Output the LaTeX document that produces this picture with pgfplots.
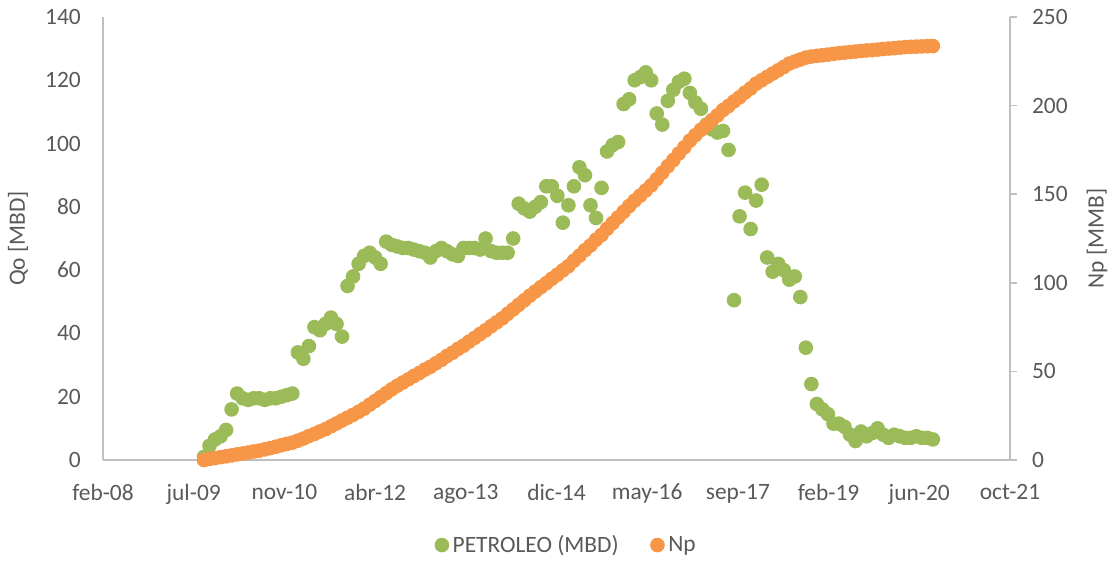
\documentclass[border=0pt]{standalone}
\usepackage{fontspec}
\setmainfont{Carlito}
\usepackage{pgfplots}
\usepackage{pgfplotstable}
\pgfplotsset{compat=1.18}

\definecolor{qogreen}{RGB}{155,187,89}
\definecolor{nporange}{RGB}{247,150,70}
\definecolor{axisgray}{RGB}{191,191,191}
\definecolor{textgray}{RGB}{89,89,89}

% m = months since jan-2008, qo [MBD], np [MMB]
\pgfplotstableread{
m qo np
20 1 0
21 4.5 0.6
22 6.5 1.1
23 7.5 1.6
24 9.5 2.1
25 16 2.6
26 21 3.2
27 19.5 3.7
28 19 4.2
29 19.5 4.8
30 19.5 5.3
31 19 6.0
32 19.5 6.7
33 19.5 7.5
34 20 8.3
35 20.5 9.1
36 21 9.8
37 34 10.9
38 32 12.1
39 36 13.5
40 42 14.7
41 41 16.1
42 43 17.4
43 45 19.0
44 43 20.6
45 39 22.3
46 55 23.9
47 58 25.5
48 62 27.2
49 64.5 29.0
50 65.5 31.2
51 64 33.3
52 62 35.5
53 69 37.7
54 68 39.9
55 67.5 41.9
56 67 43.7
57 67 45.5
58 66.5 47.4
59 66 49.1
60 65.5 51.0
61 64 52.6
62 66 54.6
63 67 56.5
64 66 58.7
65 65 60.5
66 64.5 62.7
67 67 64.5
68 67 66.8
69 67 68.9
70 66.5 71.1
71 70 73.2
72 66 75.5
73 65.5 77.7
74 65.5 79.9
75 65.5 82.5
76 70 85.0
77 81 87.6
78 79.5 90.1
79 78.5 92.7
80 80 95.1
81 81.5 97.5
82 86.5 99.8
83 86.5 102.3
84 83.5 104.6
85 75 107.1
86 80.5 109.4
87 86.5 112.5
88 92.5 115.3
89 90 118.4
90 80.5 121.1
91 76.5 124.3
92 86 127.0
93 97.5 130.5
94 99.5 133.7
95 100.5 136.9
96 112.5 140.1
97 114 143.3
98 120 146.4
99 121 149.2
100 122.5 152.1
101 120 155.0
102 109.5 158.5
103 106 162.1
104 113.5 165.8
105 117 169.3
106 119.5 173.0
107 120.5 176.5
108 116 180.2
109 113 183.3
110 111 186.3
111 106 188.9
112 104.5 191.8
113 103.5 194.5
114 104 197.5
115 98 199.8
116 50.5 202.4
117 77 204.7
118 84.5 207.4
119 73 209.7
120 82 212.4
121 87 214.3
122 64 216.2
123 59.5 218.1
124 62 219.9
125 60 221.8
126 57 223.7
127 58 224.9
128 51.5 226.0
129 35.5 227.1
130 24 227.7
131 17.7 228.1
132 16 228.4
133 14.5 228.8
134 11.5 229.2
135 11.5 229.6
136 10.5 229.9
137 8 230.2
138 6 230.5
139 9 230.8
140 7.5 231.1
141 8.5 231.3
142 10 231.6
143 8 231.9
144 7 232.2
145 8 232.4
146 7.5 232.7
147 7 233.0
148 7 233.2
149 7.5 233.3
150 7 233.4
151 7 233.5
152 6.5 233.6
}\prod

\pgfplotsset{
  common/.style={
    scale only axis,
    width=453.5bp, height=221.5bp,
    at={(0,0)}, anchor=south west,
    xmin=1.708, xmax=165.98,
    ymin=0,
    font=\fontsize{11.75}{14}\selectfont,
    tick label style={text=textgray},
    label style={text=textgray},
    /pgf/number format/assume math mode=true,
    axis line style={draw=axisgray, line width=0.75bp, -},
    every outer x axis line/.append style={-},
    every outer y axis line/.append style={-},
  },
}

\begin{document}
\begin{tikzpicture}
\path[use as bounding box] (-51.5bp,-51.5bp) rectangle (505bp,230bp);

\begin{axis}[
  common,
  ymax=140, ytick={0,20,...,140},
  axis x line*=bottom, axis y line*=left,
  xtick={1.708,18.135,34.562,50.989,67.416,83.843,100.27,116.70,133.12,149.55,165.98},
  xticklabels={feb-08,jul-09,nov-10,abr-12,ago-13,dic-14,may-16,sep-17,feb-19,jun-20,oct-21},
  xtick style={draw=none}, ytick style={draw=none},
  xticklabel style={yshift=-8.5bp},
  yticklabel style={xshift=-7.6bp},
  ylabel={Qo [MBD]},
  ylabel style={at={(axis description cs:-0.0937,0.5)}, anchor=center},
]
\addplot[only marks, mark=*, mark size=3.4bp,
  mark options={fill=qogreen, draw=qogreen, line width=0.5bp}]
  table[x=m, y=qo] {\prod};
\end{axis}

\begin{axis}[
  common,
  ymax=250, ytick={0,50,...,250},
  axis x line=none, axis y line*=right,
  tick align=outside, major tick length=3.5bp,
  ytick style={draw=axisgray, line width=0.75bp},
  yticklabel style={xshift=4bp},
  ylabel={Np [MMB]},
  ylabel style={at={(axis description cs:1.096,0.5)}, anchor=center, rotate=0},
  legend style={at={(axis description cs:0.512,-0.192)}, anchor=center,
    draw=none, fill=none, legend columns=2, text=textgray,
    /tikz/every even column/.append style={column sep=14bp}},
]
\addlegendimage{only marks, mark=*, mark size=3.4bp,
  mark options={fill=qogreen, draw=qogreen, line width=0.5bp}}
\addlegendentry{PETROLEO (MBD)}
\addplot[only marks, mark=*, mark size=3.4bp,
  mark options={fill=nporange, draw=nporange, line width=0.5bp}]
  table[x=m, y=np] {\prod};
\addlegendentry{Np}
\end{axis}
\end{tikzpicture}
\end{document}
